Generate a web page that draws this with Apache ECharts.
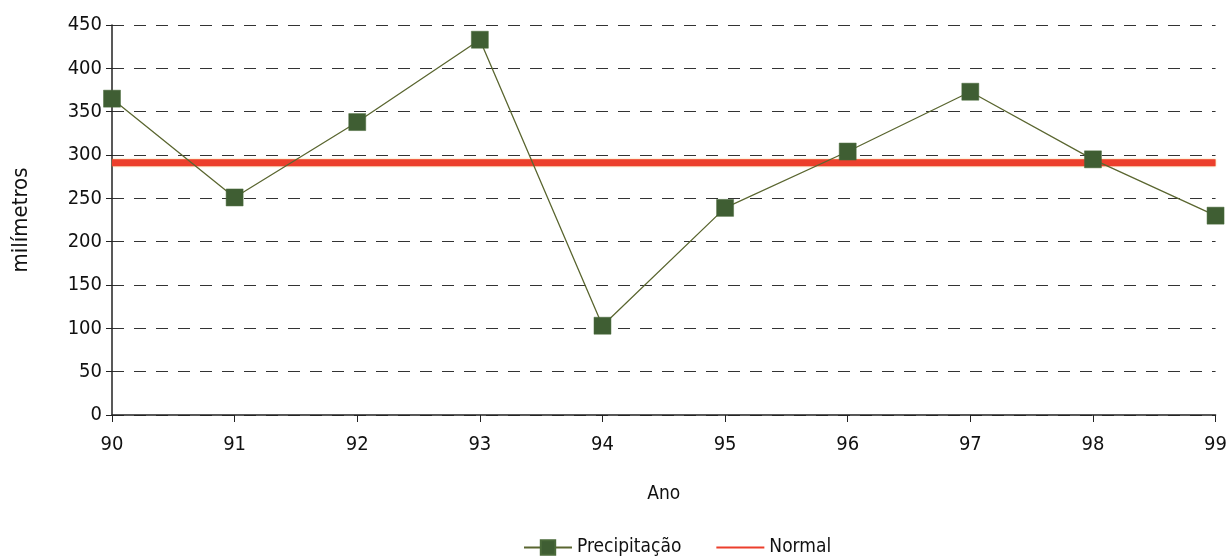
<!DOCTYPE html>
<html><head><meta charset="utf-8">
<script src="https://cdn.jsdelivr.net/npm/echarts@6/dist/echarts.min.js"></script>
<style>html,body{margin:0;padding:0;background:#fff}#c{width:1230px;height:560px}</style>
</head><body><div id="c"></div>
<script>
const anos = ['90','91','92','93','94','95','96','97','98','99'];
const precipitacao = [365, 251, 338, 433, 103, 239, 304, 373, 295, 230];
const normal = [291, 291, 291, 291, 291, 291, 291, 291, 291, 291];
const yTicks = [0, 50, 100, 150, 200, 250, 300, 350, 400, 450];

const FONT = "'Liberation Sans Narrow', 'DejaVu Sans Condensed', sans-serif";
const chart = echarts.init(document.getElementById('c'), null, {renderer: 'canvas'});
chart.setOption({
  animation: false,
  grid: {left: 112, right: 13, top: 25, bottom: 145},
  legend: {
    bottom: -2, left: 518, itemGap: 34, itemWidth: 48, itemHeight: 18,
    textStyle: {fontFamily: FONT, fontSize: 19, color: '#111'},
    data: [
      {name: 'Precipitação'},
      {name: 'Normal', itemStyle: {opacity: 0}}
    ]
  },
  xAxis: {
    type: 'category', data: anos, boundaryGap: false,
    name: 'Ano', nameLocation: 'middle', nameGap: 70,
    nameTextStyle: {fontFamily: FONT, fontSize: 19, color: '#111'},
    axisLine: {lineStyle: {color: '#222', width: 1.5}},
    axisTick: {show: true, length: 7, lineStyle: {color: '#222'}},
    axisLabel: {fontFamily: FONT, fontSize: 20, color: '#111', margin: 20},
    splitLine: {show: false}
  },
  yAxis: {
    type: 'value', min: 0, max: 450, interval: 50,
    name: 'milímetros', nameLocation: 'middle', nameGap: 80, nameRotate: 90,
    nameTextStyle: {fontFamily: FONT, fontSize: 22, color: '#111'},
    axisLine: {show: true, lineStyle: {color: '#222', width: 1.5}},
    axisTick: {show: true, length: 6, lineStyle: {color: '#222'}},
    axisLabel: {fontFamily: FONT, fontSize: 20, color: '#111', margin: 10,
      formatter: v => yTicks.includes(v) ? String(v) : ''},
    splitLine: {show: true, lineStyle: {color: '#333', type: [12, 10], width: 1.2}}
  },
  series: [
    {
      name: 'Normal', type: 'line', data: normal, symbol: 'none', z: 2,
      lineStyle: {color: '#ec3f2c', width: 7, shadowColor: 'rgba(240,160,40,0.7)', shadowBlur: 2},
      itemStyle: {color: '#ec3f2c'}
    },
    {
      name: 'Precipitação', type: 'line', data: precipitacao, z: 3,
      symbol: 'rect', symbolSize: 17,
      lineStyle: {color: '#5a6630', width: 1.3},
      itemStyle: {color: '#3f5e33', borderColor: '#4a6a3a', borderWidth: 0.5}
    }
  ]
});
</script></body></html>
